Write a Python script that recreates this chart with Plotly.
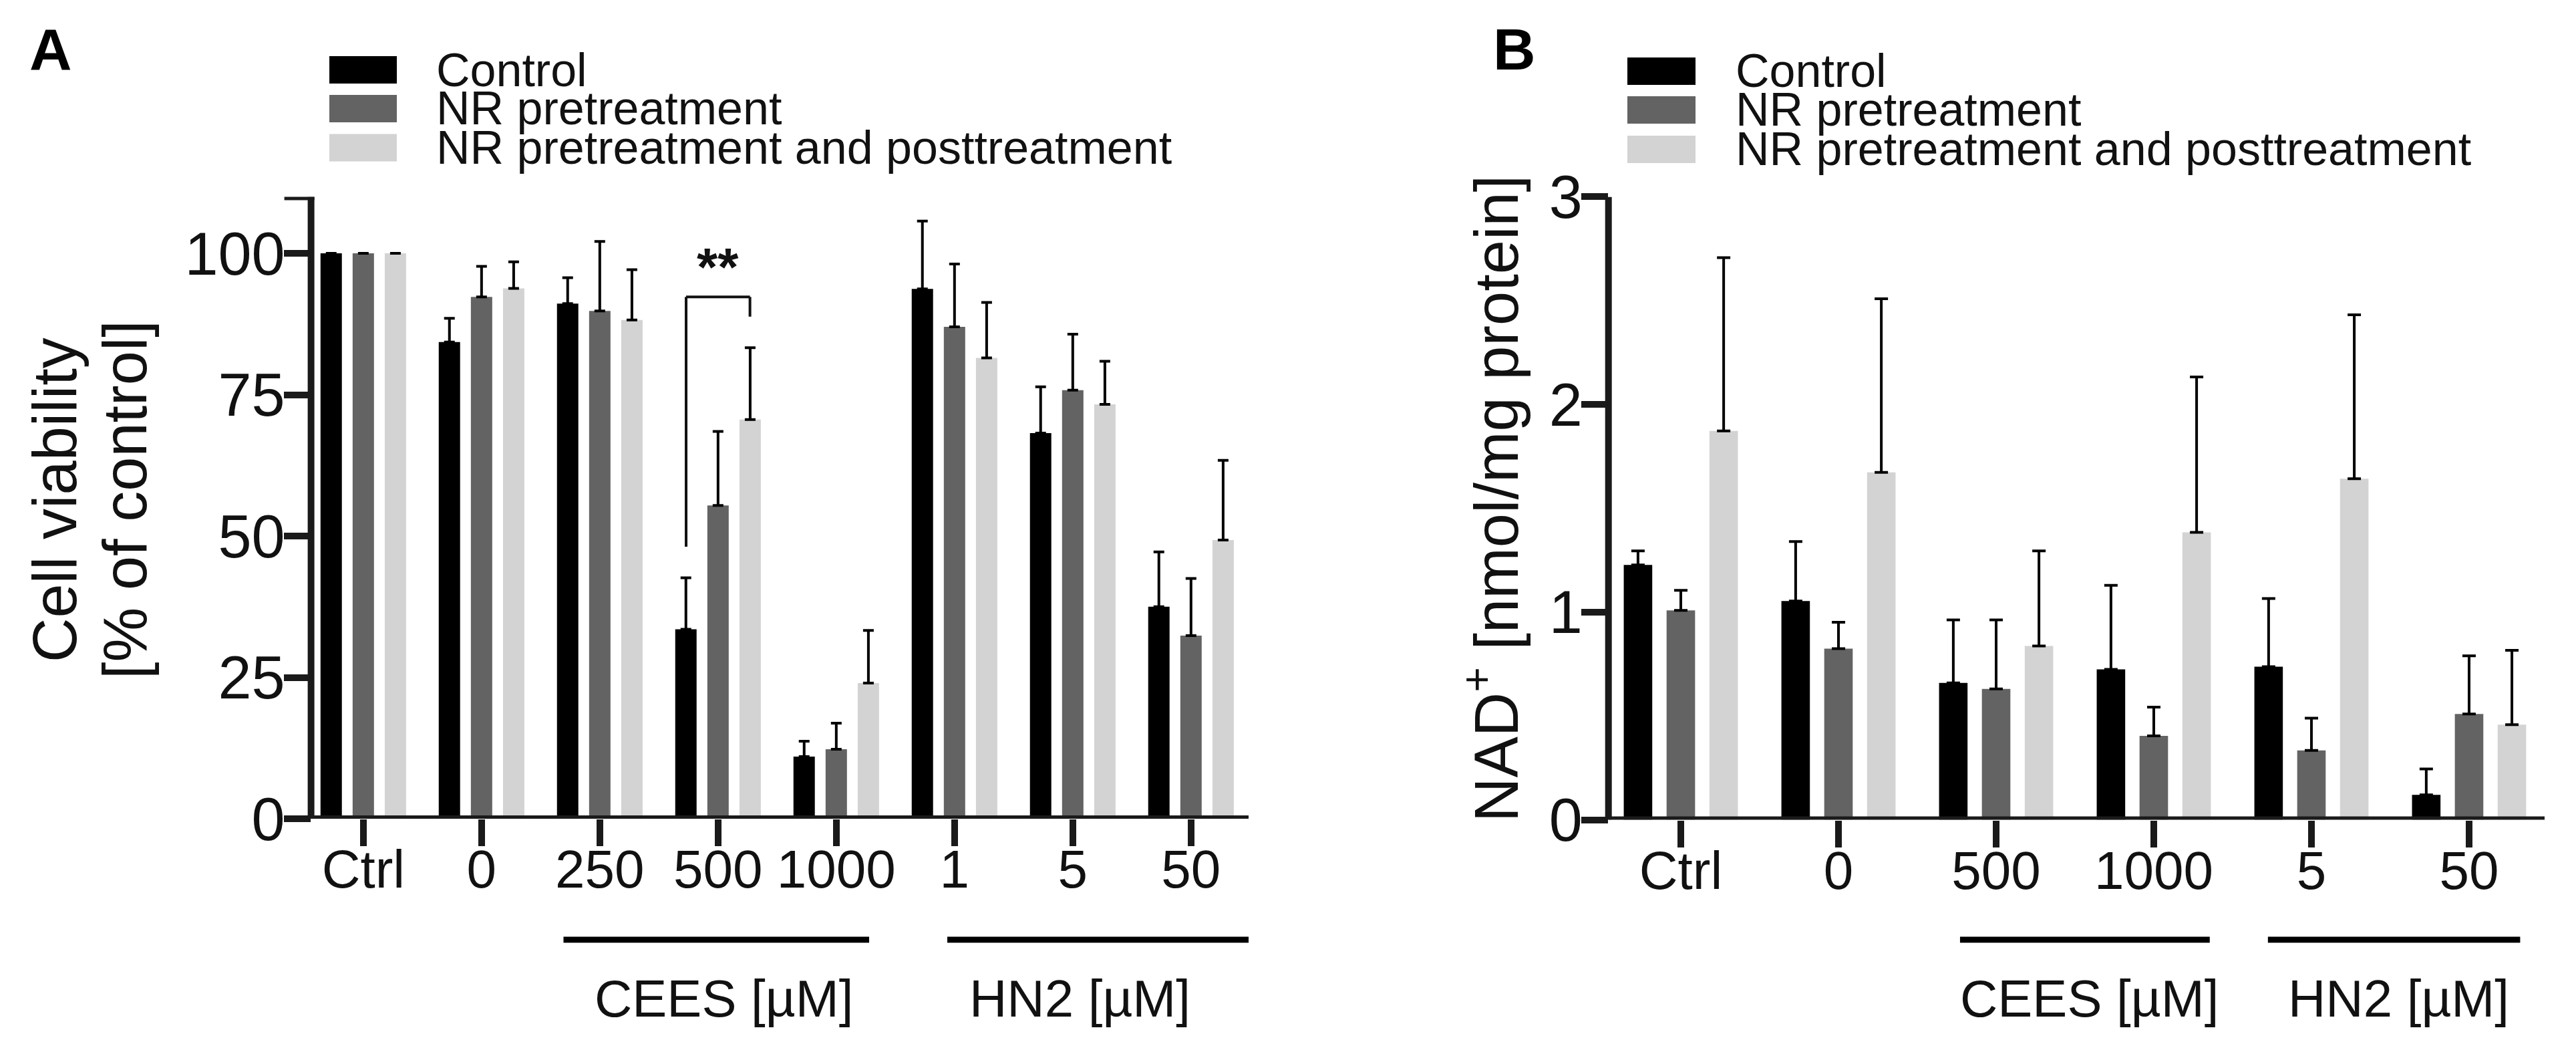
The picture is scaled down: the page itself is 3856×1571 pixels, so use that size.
import plotly.graph_objects as go

W, H = 3856, 1571
FONT = "Liberation Sans, Arial, Helvetica, sans-serif"
AX = "#1a1a1a"

series_names = ["Control", "NR pretreatment", "NR pretreatment and posttreatment"]
series_colors = ["#000000", "#636363", "#d3d3d3"]

# ---------------- Panel A: cell viability ----------------
a_categories = ["Ctrl", "0", "250", "500", "1000", "1", "5", "50"]
a_control = [100, 84.3, 91.1, 33.5, 11.0, 93.7, 68.2, 37.5]
a_control_err = [None, 4.2, 4.6, 9.1, 2.7, 12.0, 8.2, 9.7]
a_pre = [100, 92.3, 89.8, 55.4, 12.3, 87.0, 75.8, 32.4]
a_pre_err = [None, 5.4, 12.3, 13.1, 4.6, 11.1, 9.9, 10.1]
a_prepost = [100, 93.8, 88.2, 70.6, 24.0, 81.5, 73.3, 49.3]
a_prepost_err = [None, 4.7, 8.9, 12.7, 9.3, 9.8, 7.6, 14.1]
a_yticks = [0, 25, 50, 75, 100]
a_ymax = 110

# ---------------- Panel B: NAD+ ----------------
b_categories = ["Ctrl", "0", "500", "1000", "5", "50"]
b_control = [1.227, 1.053, 0.659, 0.724, 0.737, 0.120]
b_control_err = [0.068, 0.287, 0.303, 0.405, 0.328, 0.125]
b_pre = [1.008, 0.824, 0.630, 0.404, 0.334, 0.509]
b_pre_err = [0.097, 0.127, 0.332, 0.138, 0.155, 0.280]
b_prepost = [1.872, 1.673, 0.837, 1.384, 1.642, 0.458]
b_prepost_err = [0.835, 0.836, 0.458, 0.748, 0.790, 0.358]
b_yticks = [0, 1, 2, 3]
b_ymax = 3

# group labels under the x axis (start, end, label centre in category units)
group_labels = ["CEES [µM]", "HN2 [µM]"]
a_group_start = [1.693, 4.939]
a_group_end = [4.278, 7.628]
a_group_center = [3.05, 6.06]
b_group_start = [1.771, 3.724]
b_group_end = [3.355, 5.324]
b_group_center = [2.593, 4.551]

# significance bracket (panel A, 500 µM CEES: Control vs NR pre+post)
sig_category = 3
sig_offset = 0.27
sig_left_bottom, sig_top, sig_right_bottom = 48.1, 92.3, 88.8
sig_text = "**"


def px(x):
    return x / W


def py(y):
    return 1 - y / H


fig = go.Figure()

a_vals = [a_control, a_pre, a_prepost]
a_errs = [a_control_err, a_pre_err, a_prepost_err]
b_vals = [b_control, b_pre, b_prepost]
b_errs = [b_control_err, b_pre_err, b_prepost_err]

for name, col, v, e in zip(series_names, series_colors, a_vals, a_errs):
    fig.add_trace(go.Bar(
        x=a_categories, y=v, name=name, marker=dict(color=col, line=dict(width=0)),
        error_y=dict(type="data", array=e, arrayminus=[0] * len(e), symmetric=False,
                     color="#000000", thickness=4, width=8),
        xaxis="x", yaxis="y", showlegend=False))

for name, col, v, e in zip(series_names, series_colors, b_vals, b_errs):
    fig.add_trace(go.Bar(
        x=b_categories, y=v, name=name, marker=dict(color=col, line=dict(width=0)),
        error_y=dict(type="data", array=e, arrayminus=[0] * len(e), symmetric=False,
                     color="#000000", thickness=4, width=10),
        xaxis="x2", yaxis="y2", showlegend=False))

common_x = dict(type="category", showline=False, showgrid=False, zeroline=False,
                automargin=False, ticklabelstandoff=-34,
                ticks="outside", ticklen=40, tickwidth=10, tickcolor=AX,
                tickfont=dict(family=FONT, size=80, color="#111111"), fixedrange=True)
common_y = dict(showline=False, showgrid=False, zeroline=False, automargin=False,
                ticklabelstandoff=-20,
                ticks="outside", ticklen=40, tickwidth=10, tickcolor=AX,
                tickfont=dict(family=FONT, size=90, color="#111111"), fixedrange=True)

A_X0, A_X1 = 465.6, 1869
B_X0, B_X1 = 2407.7, 3809

fig.update_layout(
    template="none",
    width=W, height=H, autosize=False,
    margin=dict(l=0, r=0, t=0, b=0, pad=0, autoexpand=False),
    paper_bgcolor="white", plot_bgcolor="white",
    barmode="group", bargap=0.185, bargroupgap=0.335, showlegend=False,
    xaxis=dict(domain=[px(A_X0), px(A_X1)], range=[-0.442, 7.487], anchor="y",
               categoryorder="array", categoryarray=a_categories, **common_x),
    yaxis=dict(domain=[py(1225), py(294.4)], range=[0, a_ymax], anchor="x",
               tickvals=a_yticks, **common_y),
    xaxis2=dict(domain=[px(B_X0), px(B_X1)], range=[-0.459, 5.479], anchor="y2",
                categoryorder="array", categoryarray=b_categories, **common_x),
    yaxis2=dict(domain=[py(1226.5), py(294.4)], range=[0, b_ymax], anchor="x2",
                tickvals=b_yticks, **common_y),
)

shapes = []
annotations = []

# axis lines
for xa, ya, ytop in [("x", "y", a_ymax), ("x2", "y2", b_ymax)]:
    shapes.append(dict(type="line", xref=xa + " domain", yref=ya, x0=0, x1=1, y0=0, y1=0,
                       line=dict(color=AX, width=10), layer="above"))
    shapes.append(dict(type="line", xref=xa + " domain", yref=ya, x0=0, x1=0, y0=0, y1=ytop,
                       line=dict(color=AX, width=10), layer="above"))
# end cap at the top of the panel A y axis (unlabelled tick)
shapes.append(dict(type="line", xref="x domain", yref="y",
                   x0=-40 / (A_X1 - A_X0), x1=5 / (A_X1 - A_X0), y0=a_ymax, y1=a_ymax,
                   line=dict(color=AX, width=10), layer="above"))

# group lines and labels
for xa, starts, ends, centers in [("x", a_group_start, a_group_end, a_group_center),
                                  ("x2", b_group_start, b_group_end, b_group_center)]:
    for lab, s, e, c in zip(group_labels, starts, ends, centers):
        shapes.append(dict(type="line", xref=xa, yref="paper", x0=s, x1=e,
                           y0=py(1406), y1=py(1406), line=dict(color="#000000", width=9)))
        annotations.append(dict(text=lab, xref=xa, yref="paper", x=c, y=py(1494),
                                xanchor="center", yanchor="middle", showarrow=False,
                                font=dict(family=FONT, size=78, color="#111111")))

# significance bracket
xl, xr = sig_category - sig_offset, sig_category + sig_offset
for x0, y0, x1, y1 in [(xl, sig_left_bottom, xl, sig_top), (xl, sig_top, xr, sig_top),
                       (xr, sig_top, xr, sig_right_bottom)]:
    shapes.append(dict(type="line", xref="x", yref="y", x0=x0, y0=y0, x1=x1, y1=y1,
                       line=dict(color="#111111", width=4)))
annotations.append(dict(text="<b>" + sig_text + "</b>", xref="x", yref="y", x=sig_category,
                        y=sig_top - 0.2, xanchor="center", yanchor="bottom", showarrow=False,
                        font=dict(family=FONT, size=80, color="#111111")))

# manual legends
legend_specs = [
    (493, 594, [104.5, 162.5, 221.0], 651),
    (2436, 2538, [106.5, 164.5, 223.5], 2596),
]
for x0, x1, centers, tx in legend_specs:
    for name, col, cy in zip(series_names, series_colors, centers):
        shapes.append(dict(type="rect", xref="paper", yref="paper", x0=px(x0), x1=px(x1),
                           y0=py(cy + 20.5), y1=py(cy - 20.5), fillcolor=col,
                           line=dict(width=0)))
        annotations.append(dict(text=name, xref="paper", yref="paper", x=px(tx), y=py(cy),
                                xanchor="left", yanchor="middle", showarrow=False,
                                font=dict(family=FONT, size=70, color="#111111")))

# panel letters
for letter, x, y in [("A", 42, 74), ("B", 2233, 73.5)]:
    annotations.append(dict(text="<b>" + letter + "</b>", xref="paper", yref="paper",
                            x=px(x), y=py(y), xanchor="left", yanchor="middle",
                            showarrow=False, font=dict(family=FONT, size=88, color="#000000")))

# y-axis titles
for txt, x, y in [("Cell viability", 82, 748), ("[% of control]", 187, 748),
                  ("NAD<sup>+</sup> [nmol/mg protein]", 2233, 746)]:
    annotations.append(dict(text=txt, xref="paper", yref="paper", x=px(x), y=py(y),
                            xanchor="center", yanchor="middle", textangle=-90,
                            showarrow=False, font=dict(family=FONT, size=92, color="#111111")))

fig.update_layout(shapes=shapes, annotations=annotations)
fig.write_html("out.html")
